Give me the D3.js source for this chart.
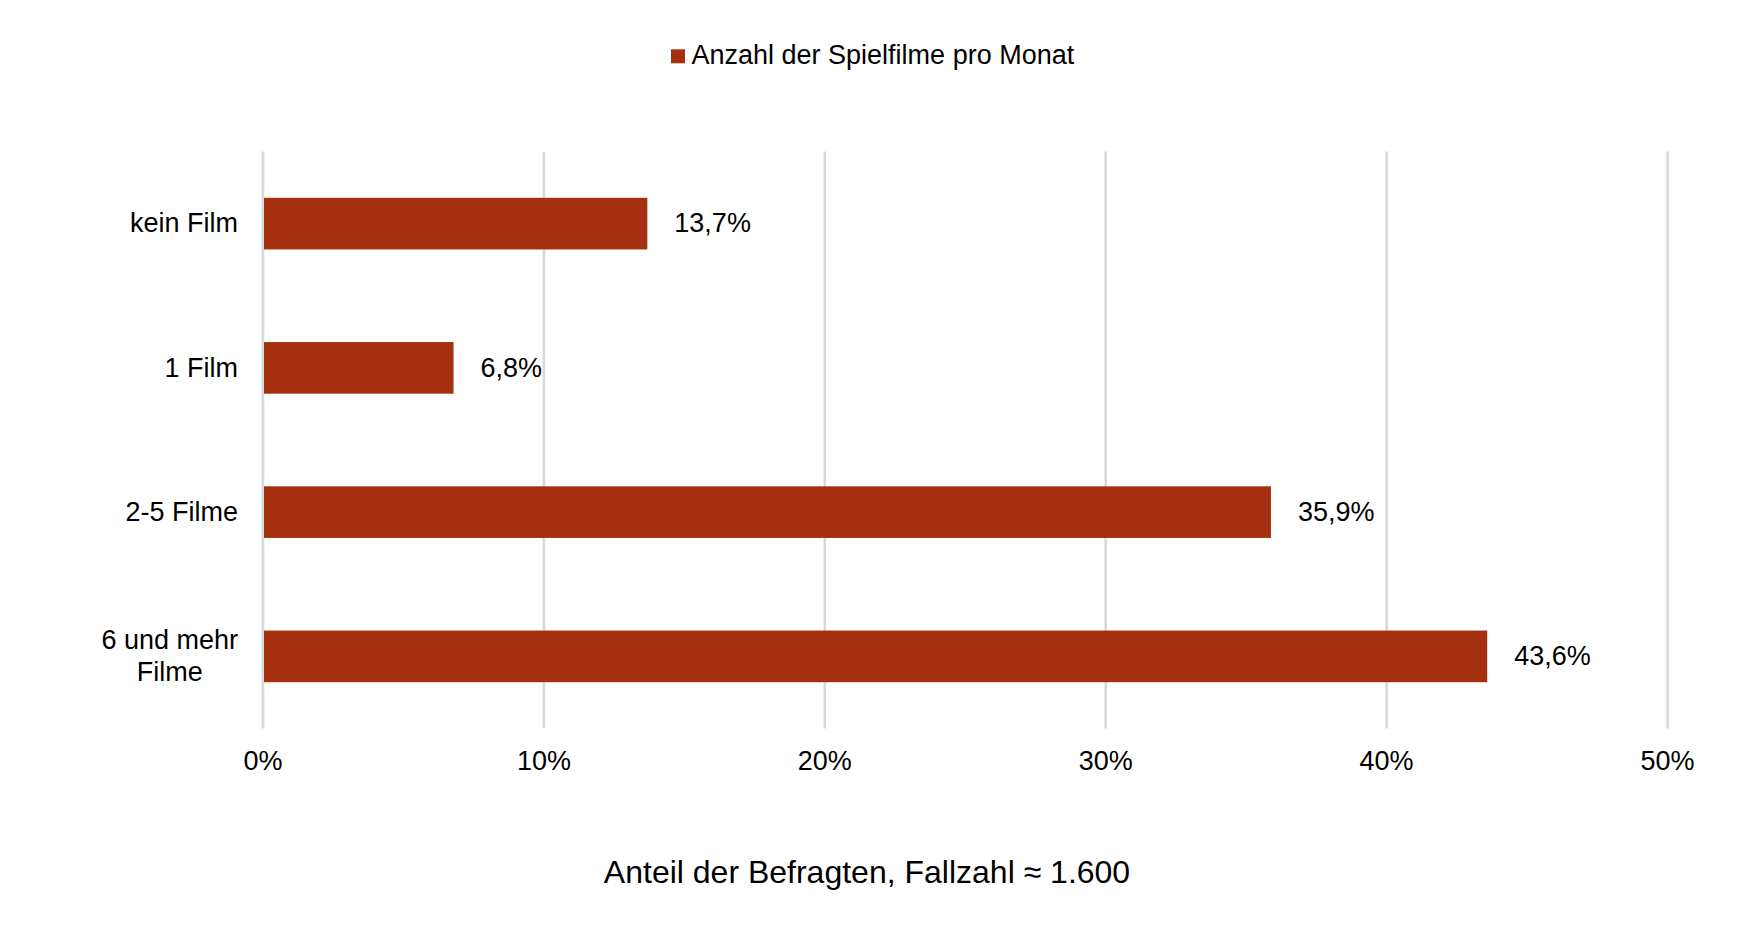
<!DOCTYPE html>
<html>
<head>
<meta charset="utf-8">
<script src="https://cdn.jsdelivr.net/npm/d3@7"></script>
<style>
  body { margin: 0; background: #fff; }
  svg text { font-family: "Liberation Sans", Arial, sans-serif; fill: #000; }
</style>
</head>
<body>
<svg id="chart" width="1747" height="930"></svg>
<script>
// chart data
const categories = [['kein Film'], ['1 Film'], ['2-5 Filme'], ['6 und mehr', 'Filme']];
const values = [13.7, 6.8, 35.9, 43.6];
const tickValues = [0, 10, 20, 30, 40, 50];
const seriesName = 'Anzahl der Spielfilme pro Monat';
const axisTitle = 'Anteil der Befragten, Fallzahl \u2248 1.600';

const barColor = '#a5300f';
const gridColor = '#d9d9d9';
const fontSize = '27px';

let margin = {top: 151.5, left: 262.5};
let width = 1667 - margin.left;
let height = 728.5 - margin.top;

const svg = d3.select('#chart');
svg.append('rect').attr('width', 1747).attr('height', 930).attr('fill', '#fff');

let chart = svg.append('g')
    .attr('transform', `translate(${margin.left}, ${margin.top})`);

let x = d3.scaleLinear().domain([0, 50]).range([0, width]);
let y = d3.scaleBand()
    .domain(d3.range(categories.length))
    .range([0, height])
    .paddingInner(0.642)
    .paddingOuter(0.321);

// x axis with gridlines
let xAxis = d3.axisBottom(x)
    .tickValues(tickValues)
    .tickSizeInner(-height)
    .tickSizeOuter(0)
    .tickPadding(22)
    .tickFormat(d => d + '%');

let xAxisG = chart.append('g')
    .attr('transform', `translate(0, ${height})`)
    .call(xAxis);
xAxisG.select('.domain').remove();
xAxisG.selectAll('line').attr('stroke', gridColor).attr('stroke-width', 2.6);
xAxisG.selectAll('text')
    .attr('fill', '#000')
    .style('font-size', fontSize)
    .style('font-family', '"Liberation Sans", Arial, sans-serif');

// bars
chart.append('g').selectAll('rect')
    .data(values)
    .enter()
        .append('rect')
        .attr('x', x(0) + 1.5)
        .attr('y', (d, i) => y(i))
        .attr('width', d => x(d) - x(0) - 1.5)
        .attr('height', y.bandwidth())
        .attr('fill', barColor);

// value labels
chart.append('g').selectAll('text')
    .data(values)
    .enter()
        .append('text')
        .attr('x', d => x(d) + 27)
        .attr('y', (d, i) => y(i) + y.bandwidth() / 2)
        .attr('dy', '0.32em')
        .style('font-size', fontSize)
        .text(d => d.toFixed(1).replace('.', ',') + '%');

// category labels, lines centred on each other, block right aligned
let catG = chart.append('g');
categories.forEach((lines, i) => {
    let cy = y(i) + y.bandwidth() / 2;
    let t = catG.append('text')
        .attr('text-anchor', 'middle')
        .style('font-size', fontSize);
    lines.forEach((line, j) => {
        t.append('tspan')
            .attr('x', 0)
            .attr('y', cy + (j - (lines.length - 1) / 2) * 32)
            .attr('dy', '0.32em')
            .text(line);
    });
    let w = t.node().getBBox().width;
    t.attr('transform', `translate(${-24.5 - w / 2}, 0)`);
});

// legend
let legend = svg.append('g');
legend.append('rect')
    .attr('x', 671).attr('y', 49.3)
    .attr('width', 14).attr('height', 14)
    .attr('fill', barColor);
legend.append('text')
    .attr('x', 691.5).attr('y', 64.3)
    .style('font-size', fontSize)
    .text(seriesName);

// axis title
svg.append('text')
    .attr('x', 867).attr('y', 882.7)
    .attr('text-anchor', 'middle')
    .style('font-size', '32px')
    .text(axisTitle);
</script>
</body>
</html>
